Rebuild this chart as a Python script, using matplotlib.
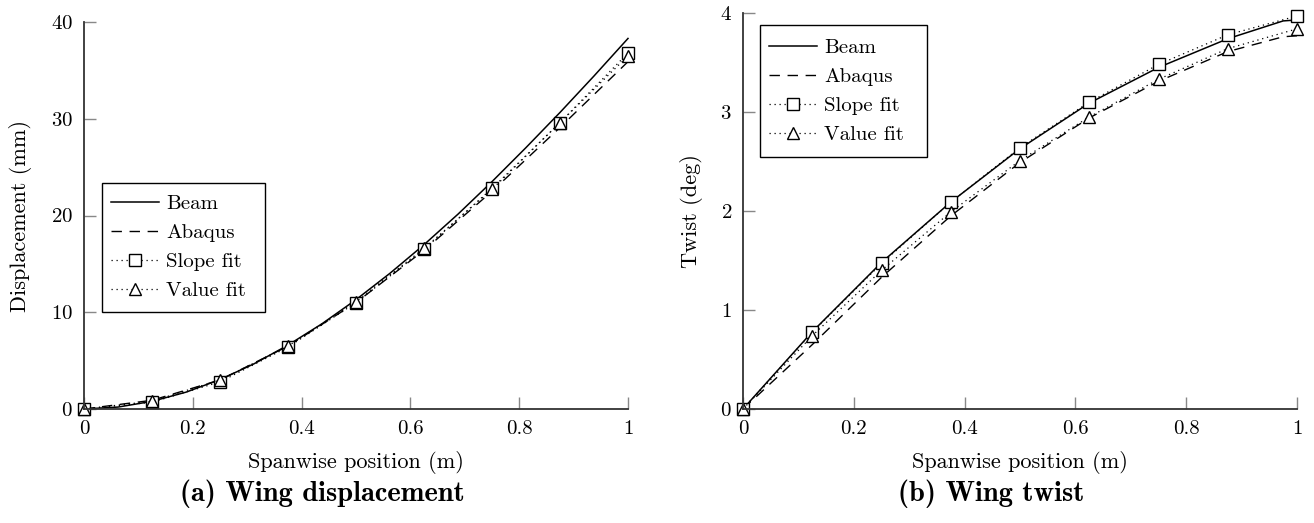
import matplotlib
matplotlib.use("Agg")
import matplotlib.pyplot as plt
from matplotlib.patches import Rectangle

plt.rcParams["font.family"] = "cmr10"
plt.rcParams["mathtext.fontset"] = "cm"
plt.rcParams["axes.formatter.use_mathtext"] = True

# spanwise stations
x_pts = [0, 0.125, 0.25, 0.375, 0.5, 0.625, 0.75, 0.875, 1.0]
x_fine = [0, 0.0625, 0.125, 0.1875, 0.25, 0.3125, 0.375, 0.4375, 0.5,
          0.5625, 0.625, 0.6875, 0.75, 0.8125, 0.875, 0.9375, 1.0]

# (a) displacement (mm)
disp_beam = [0, 0.20, 0.79, 1.74, 3.04, 4.67, 6.6, 8.81, 11.3,
             14.03, 16.98, 20.14, 23.5, 27.02, 30.65, 34.42, 38.3]
disp_abaqus = [0, 0.9, 3.0, 6.5, 11.0, 16.4, 22.5, 29.1, 35.9]
disp_slope = [0, 0.7, 2.8, 6.4, 11.0, 16.5, 22.8, 29.6, 36.8]
disp_value = [0, 0.8, 3.0, 6.5, 11.1, 16.6, 22.7, 29.6, 36.5]

# (b) twist (deg)
x_twist_line = [0, 0.125, 0.25, 0.375, 0.5, 0.625, 0.75, 0.875, 0.975, 1.0]
twist_beam = [0, 0.78, 1.48, 2.09, 2.63, 3.09, 3.45, 3.74, 3.92, 3.93]
twist_abaqus = [0, 0.65, 1.33, 1.95, 2.49, 2.94, 3.31, 3.61, 3.76, 3.77]
twist_slope = [0, 0.775, 1.47, 2.09, 2.64, 3.10, 3.48, 3.78, 3.97]
twist_value = [0, 0.74, 1.40, 1.99, 2.51, 2.95, 3.33, 3.64, 3.84]

x_ticks = [0, 0.2, 0.4, 0.6, 0.8, 1.0]
x_tick_labels = ["0", "0.2", "0.4", "0.6", "0.8", "1"]

W, H = 1314, 523
fig = plt.figure(figsize=(W / 100, H / 100), dpi=100)
ax1 = fig.add_axes([84 / W, 114 / H, 544 / W, 387 / H])
ax2 = fig.add_axes([743 / W, 114 / H, 554 / W, 396 / H])

dot = (0, (1, 3))
mk = dict(color="black", markerfacecolor="white", markeredgecolor="black",
          markersize=8, markeredgewidth=1.0, linewidth=0.9, clip_on=False)


def draw(ax, xb, beam, xa, abaqus, slope, value):
    ax.plot(xb, beam, color="black", linewidth=1.1, label="Beam", clip_on=False)
    ax.plot(xa, abaqus, color="black", linewidth=1.0, linestyle=(0, (7.5, 5.5)),
            label="Abaqus", clip_on=False)
    ax.plot(x_pts, slope, marker="s", linestyle=dot, label="Slope fit", **mk)
    ax.plot(x_pts, value, marker="^", linestyle=dot, label="Value fit", **mk)
    ax.set_xlim(0, 1)
    ax.set_xticks(x_ticks)
    ax.set_xticklabels(x_tick_labels)
    for s in ["top", "right"]:
        ax.spines[s].set_visible(False)
    for s in ["left", "bottom"]:
        ax.spines[s].set_color("#333333")
        ax.spines[s].set_linewidth(1.3)
    ax.tick_params(direction="in", length=8.5, width=1.0, color="#888888",
                   labelsize=15, pad=8)
    ax.set_xlabel("Spanwise position (m)", fontsize=16, va="center")


def legend_box(ax, box, wpx, hpx):
    # box = (left, top, right, bottom) in pixels relative to axes origin
    l, t, r, b = box
    ax.add_patch(Rectangle((l / wpx, b / hpx), (r - l) / wpx, (t - b) / hpx,
                           transform=ax.transAxes, facecolor="white",
                           edgecolor="black", linewidth=1.0, clip_on=False,
                           zorder=4))
    leg = ax.legend(loc="center left",
                    bbox_to_anchor=((l + 9) / wpx, (t + b) / 2 / hpx),
                    fontsize=15, frameon=False, handlelength=2.3,
                    labelspacing=0.5, borderpad=0, handletextpad=0.35,
                    borderaxespad=0)
    leg.set_zorder(5)


draw(ax1, x_fine, disp_beam, x_pts, disp_abaqus, disp_slope, disp_value)
ax1.set_ylim(0, 40)
ax1.set_yticks([0, 10, 20, 30, 40])
ax1.set_ylabel("Displacement (mm)", fontsize=16, va="center")
ax1.yaxis.set_label_coords(-63 / 544, 0.5)
ax1.xaxis.set_label_coords(0.5, -53 / 387)
legend_box(ax1, (102 - 84, 409 - 183, 265 - 84, 409 - 312), 544, 387)

draw(ax2, x_twist_line, twist_beam, x_twist_line, twist_abaqus, twist_slope, twist_value)
ax2.set_ylim(0, 4)
ax2.set_yticks([0, 1, 2, 3, 4])
ax2.set_ylabel("Twist (deg)", fontsize=16, va="center")
ax2.yaxis.set_label_coords(-52 / 554, 0.5)
ax2.xaxis.set_label_coords(0.5, -53 / 396)
legend_box(ax2, (760 - 743, 409 - 25, 927 - 743, 409 - 157), 554, 396)

fig.text(322 / W, 1 - 494 / H, "(a) Wing displacement", family="cmb10",
         fontsize=20.5, ha="center", va="center")
fig.text(991 / W, 1 - 494 / H, "(b) Wing twist", family="cmb10",
         fontsize=20.5, ha="center", va="center")

fig.savefig("out.png", dpi=100)
